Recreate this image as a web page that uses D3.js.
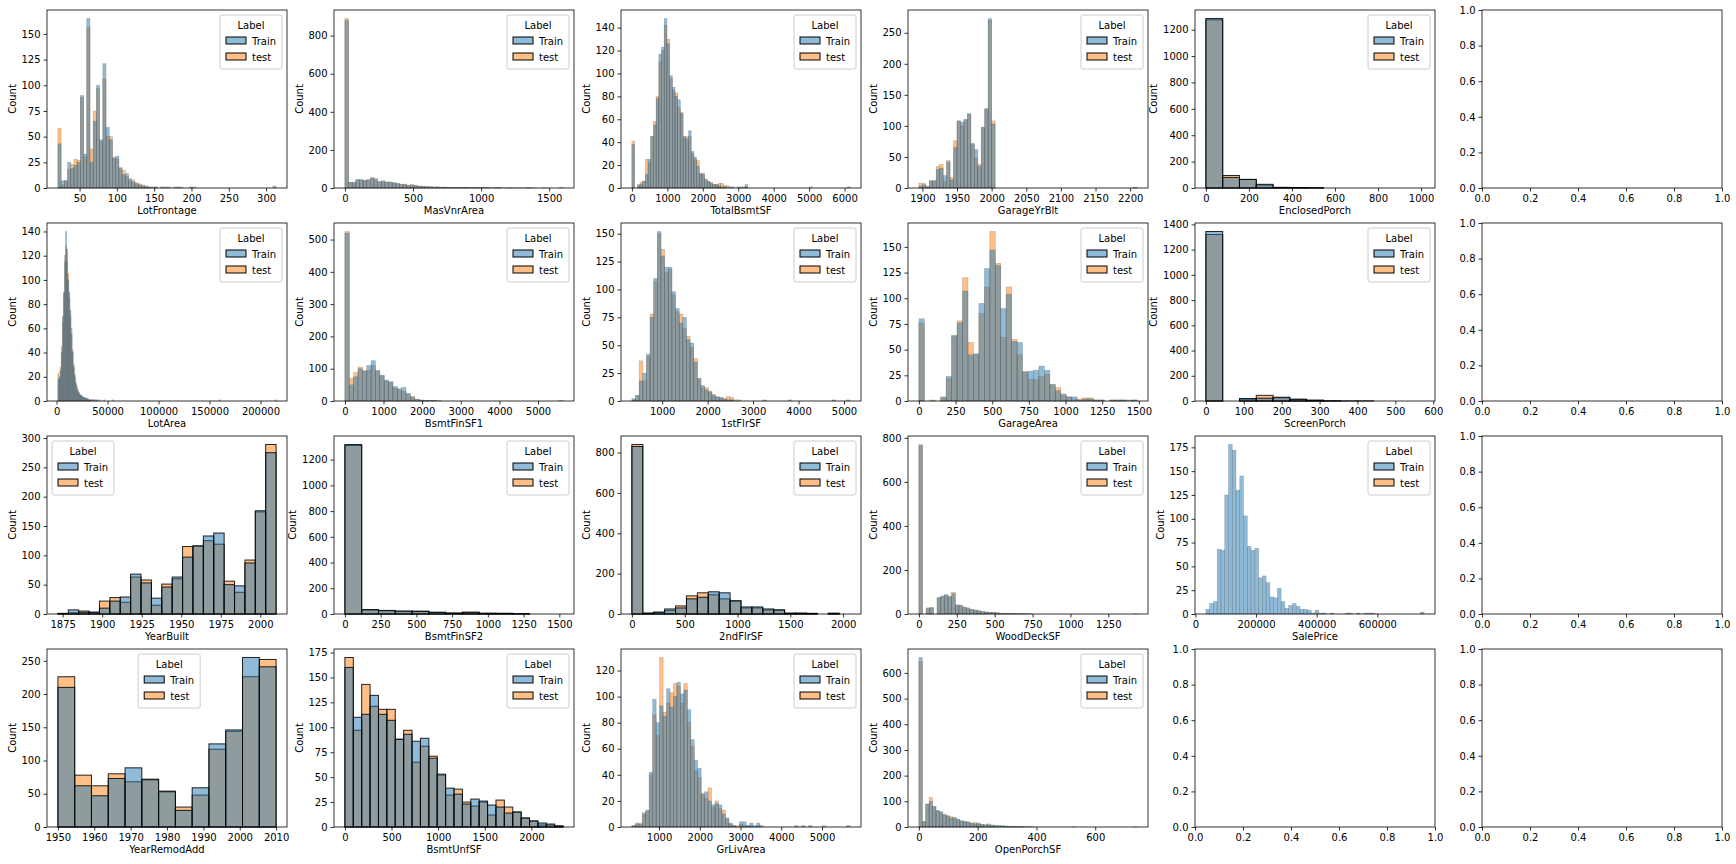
<!DOCTYPE html>
<html>
<head>
<meta charset="utf-8">
<script src="https://cdn.jsdelivr.net/npm/d3@7"></script>
<style>
  body { margin: 0; background: #fff; }
  text { font-family: "DejaVu Sans", sans-serif; font-size: 10px; fill: #000; }
</style>
</head>
<body>
<svg id="chart" width="1736" height="864"></svg>
<script>
// histogram bins: start, width, counts per bin (Train / test)
const lotFrontageTrain = [43,7,7,25,19,22,25,90,33,165,25,65,100,47,121,59,47,29,31,19,13,14,9,6,5,3,2,2,1,1,1,0,1,0,1,0,1,1,0,0,0,1,0,0,0,0,0,0,0,0,0,0,0,0,0,0,0,0,0,0,0,0,0,0,0,0,0,2]
const lotFrontageTest = [58,3,7,18,23,28,27,88,30,156,38,75,97,45,106,50,50,30,28,20,17,11,7,8,4,4,3,1,1,0,1,0,0,1,0,0,0,0,1,0,0,0,1]
const masVnrTrain = [880,30,28,45,45,40,42,55,45,35,35,32,30,28,25,18,17,15,12,14,10,8,7,6,5,6,4,4,3,3,3,2,4,2,3,2,1,2,3,1,0,2,2,0,1,1,1,0,1,0,2,1,0,0,1,0,0,0,0,2]
const masVnrTest = [890,28,30,42,40,38,45,50,50,30,38,30,32,25,22,20,20,14,20,12,9,10,6,7,4,5,3,5,2,4,2,3,2,3,1,2,2,1,1,2,1,1,1,1,0,1,0,1,0,1,1,0,1,0,0,1]
const totalBsmtTrain = [38,0,2,3,6,12,25,45,55,78,117,123,148,126,98,88,80,77,65,45,43,50,32,27,19,13,12,7,6,4,3,3,2,1,1,0,1,1,0,0,1,1,3,0,0,0,0,0,0,0,0,0,0,0,0,0,0,0,0,0,0,0,0,0,0,0,0,0,0,0,0,0,0,0,0,0,0,0,0,0,1]
const totalBsmtTest = [41,0,3,5,6,25,22,45,58,80,110,120,142,130,96,85,83,70,66,44,45,45,30,25,24,12,13,8,5,5,3,3,4,4,2,2,0,0,0,1,0,0,1,0,0,0,0,0,0,0,0,0,0,0,0,0,0,0,0,0,0,0,0,0,0,0,1]
const garageYrTrain = [3,5,2,11,12,30,32,20,42,13,65,108,106,110,120,72,62,35,98,127,273,103,0,0,0,0,0,0,0,0,0,0,0,0,0,0,0,0,0,0,0,0,0,0,0,0,0,0,0,0,0,0,0,0,0,0,0,0,0,0,0,0,1]
const garageYrTest = [8,7,3,12,11,35,38,10,44,17,76,108,100,110,118,70,48,38,97,128,270,108,0,0,0,0,0,0,0,0,0,0,0,0,0,0,0,0,0,0,0,0,0,0,0,0,0,0,0,0,0,0,0,0,0,0,0,0,0,0,0,0,1]
const enclosedTrain = [1285,80,65,28,5,3,1,0,0,0,0,0,0]
const enclosedTest = [1275,95,65,22,4,4,2,0,0,0,0,0,0]

const lotAreaTrain = [18,20,25,40,70,90,115,140,125,100,90,75,55,40,28,20,15,12,8,6,5,4,4,3,3,2,2,2,1,1,1,1,0,1,0,1,0,0,1,0,0,0,1,0,0,0,0,0,0,0,0,0,0,0,0,0,0,0,0,0,0,0,0,0,0,0,0,0,0,0,0,0,0,0,0,0,0,0,0,0,0,0,0,0,0,0,0,0,0,0,0,0,0,0,0,0,0,0,0,0,0,0,0,0,0,0,0,0,0,0,0,0,0,0,0,0,0,0,0,0,0,0,0,0,0,0,0,0,0,0,0,0,0,0,0,0,0,0,0,0,0,0,0,0,0,0,0,0,1,0,0,0,0,0,0,0,0,0,0,0,0,0,0,0,0,0,0,0,0,0,0,0,0,0,0,0,0,0,0,0,0,0,0,0,0,0,0,0,0,0,0,0,0,0,0,0,0,0,0,1]
const lotAreaTest = [23,18,28,45,65,88,120,128,115,105,85,70,60,42,30,22,14,10,9,7,5,5,3,3,2,2,2,1,1,1,0,1,1,0,1,0,1,0,0,0,0,0,0,0,0,0,0,0,0,0,1]
const bsmtFin1Train = [520,50,75,100,92,110,125,95,80,65,60,45,38,42,24,12,6,3,2,1,1,1,0,0,0,0,0,0,0,0,0,0,0,0,0,0,0,0,0,0,0,0,0,0,0,0,0,0,0,1]
const bsmtFin1Test = [525,70,88,105,95,95,110,92,78,62,58,40,35,30,20,14,5,3,1,1,1]
const firstFlrTrain = [2,5,18,25,42,75,110,152,130,120,120,98,83,70,75,55,52,35,20,14,10,8,5,4,3,2,1,1,0,0,0,0,0,0,0,0,1,0,0,0,0,0,0,0,0,0,0,0,0,0,0,0,0,0,0,1]
const firstFlrTest = [1,5,36,18,40,78,107,150,136,115,118,95,80,78,65,58,48,38,20,12,12,9,6,3,3,2,4,3,1,1,0,0,0,0,0,0,0,0,0,0,0,0,0,1,0,0,0,0,0,0,0,0,0,0,0,0,0,0,0,1]
const garageAreaTrain = [80,0,0,0,4,24,64,76,107,45,46,95,129,147,132,90,104,58,57,28,29,30,34,30,16,10,6,4,4,1,2,2,1,1,0,1,1,1,1,1]
const garageAreaTest = [76,0,1,0,3,22,63,78,120,57,45,85,111,165,134,62,111,60,45,29,21,21,24,26,16,13,7,4,2,2,3,3,1,1,0,1,1,1,0,1]
const screenTrain = [1344,0,20,22,30,15,7,1,1,0,0,0,0]
const screenTest = [1320,0,14,45,25,12,5,1,0,1,0,0,0]

const yearBuiltTrain = [1,7,3,3,10,22,29,68,53,27,46,63,97,116,133,138,50,48,87,176,275]
const yearBuiltTest = [1,2,5,3,22,28,20,63,58,15,51,60,115,116,125,119,56,37,92,174,289]
const bsmtFin2Train = [1318,35,28,22,20,14,6,10,6,5,2,0,0]
const bsmtFin2Test = [1310,30,25,22,22,12,8,15,5,5,3,0,0]
const secondFlrTrain = [830,5,10,25,30,75,83,110,105,65,35,35,25,20,4,4,3,0,3,0]
const secondFlrTest = [840,3,7,18,40,90,105,95,75,65,30,30,20,20,4,4,3,0,4,0]
const woodDeckTrain = [765,0,25,28,0,75,82,88,78,92,42,38,30,25,20,18,14,10,9,7,8,5,4,3,2,2,1,1,1,1,1,0,0,0,0,0,0,0,0,0,0,0,0,0,0,0,0,0,0,0,0,0,0,0,0,0,0,0,0,1]
const woodDeckTest = [770,0,28,30,0,72,78,85,80,98,38,40,32,28,20,18,15,12,9,7,6,6,3,3,2,2,3,1,2,1,1]
const salePriceTrain = [5,11,13,68,67,125,178,172,130,145,103,71,67,69,38,40,33,18,17,27,13,6,9,11,8,5,5,4,1,4,1,1,0,1,0,0,0,1,1,0,1,0,1,1,1,0,0,0,0,0,0,0,0,0,0,0,0,2]
const salePriceTest = []

const remodTrain = [210,62,47,73,89,71,53,25,59,125,146,255,241]
const remodTest = [226,78,62,80,68,72,54,30,48,117,144,226,252]
const bsmtUnfTrain = [160,110,113,132,113,107,88,93,86,89,69,53,39,33,23,28,26,22,20,14,15,9,6,4,3,1]
const bsmtUnfTest = [170,97,143,121,118,118,88,97,65,81,71,52,32,38,25,21,25,12,27,20,15,9,6,2,2,1]
const grLivTrain = [1,3,2,10,13,42,98,80,93,85,106,92,100,111,102,105,90,67,51,45,25,27,20,17,18,17,10,7,3,1,0,4,4,1,3,1,3,1,0,0,0,0,0,0,0,0,0,1,0,1,0,1,0,0,0,0,0,0,0,0,0,0,1]
const grLivTest = [1,2,3,11,12,40,86,70,130,88,95,103,110,108,95,110,80,62,43,38,26,22,30,15,20,14,13,6,2,1,1,2,1,1,1,0,1,0,0,0,0,0,0,0,0,0,0,0,0,0,0,0,0,0,0,1]
const openPorchTrain = [660,22,90,100,80,65,60,50,42,35,38,30,25,22,20,15,12,15,10,9,8,8,6,5,5,4,3,2,2,3,1,1,0,1,0,0,0,0,0,0,0,0,0,0,0,1,0,0,0,0,0,0,0,0,0,0,0,0,0,0,0,0,0,1]
const openPorchTest = [645,20,88,115,80,62,55,45,45,40,33,30,22,20,18,15,18,12,10,8,12,6,5,4,4,3,2,2,1,1,2,0,3]

const panels = [
  { name: 'LotFrontage', start: 21, width: 4.3, train: lotFrontageTrain, test: lotFrontageTest, xTicks: [50,100,150,200,250,300], yTicks: [0,25,50,75,100,125,150] },
  { name: 'MasVnrArea', start: 0, width: 26.7, train: masVnrTrain, test: masVnrTest, xTicks: [0,500,1000,1500], yTicks: [0,200,400,600,800] },
  { name: 'TotalBsmtSF', start: 0, width: 76, train: totalBsmtTrain, test: totalBsmtTest, xTicks: [0,1000,2000,3000,4000,5000,6000], yTicks: [0,20,40,60,80,100,120,140] },
  { name: 'GarageYrBlt', start: 1895, width: 5, train: garageYrTrain, test: garageYrTest, xTicks: [1900,1950,2000,2050,2100,2150,2200], yTicks: [0,50,100,150,200,250] },
  { name: 'EnclosedPorch', start: 0, width: 78, train: enclosedTrain, test: enclosedTest, xTicks: [0,200,400,600,800,1000], yTicks: [0,200,400,600,800,1000,1200] },
  null,
  { name: 'LotArea', start: 1300, width: 1070, train: lotAreaTrain, test: lotAreaTest, xTicks: [0,50000,100000,150000,200000], yTicks: [0,20,40,60,80,100,120,140] },
  { name: 'BsmtFinSF1', start: 0, width: 113, train: bsmtFin1Train, test: bsmtFin1Test, xTicks: [0,1000,2000,3000,4000,5000], yTicks: [0,100,200,300,400,500] },
  { name: '1stFlrSF', start: 334, width: 80, train: firstFlrTrain, test: firstFlrTest, xTicks: [1000,2000,3000,4000,5000], yTicks: [0,25,50,75,100,125,150] },
  { name: 'GarageArea', start: 0, width: 37.2, train: garageAreaTrain, test: garageAreaTest, xTicks: [0,250,500,750,1000,1250,1500], yTicks: [0,25,50,75,100,125,150] },
  { name: 'ScreenPorch', start: 0, width: 44.3, train: screenTrain, test: screenTest, xTicks: [0,100,200,300,400,500,600], yTicks: [0,200,400,600,800,1000,1200,1400] },
  null,
  { name: 'YearBuilt', start: 1872, width: 6.57, train: yearBuiltTrain, test: yearBuiltTest, xTicks: [1875,1900,1925,1950,1975,2000], yTicks: [0,50,100,150,200,250,300], legend: 'left' },
  { name: 'BsmtFinSF2', start: 0, width: 117.4, train: bsmtFin2Train, test: bsmtFin2Test, xTicks: [0,250,500,750,1000,1250,1500], yTicks: [0,200,400,600,800,1000,1200] },
  { name: '2ndFlrSF', start: 0, width: 103.3, train: secondFlrTrain, test: secondFlrTest, xTicks: [0,500,1000,1500,2000], yTicks: [0,200,400,600,800] },
  { name: 'WoodDeckSF', start: 0, width: 24, train: woodDeckTrain, test: woodDeckTest, xTicks: [0,250,500,750,1000,1250], yTicks: [0,200,400,600,800] },
  { name: 'SalePrice', start: 34900, width: 12400, train: salePriceTrain, test: salePriceTest, xTicks: [0,200000,400000,600000], yTicks: [0,25,50,75,100,125,150,175] },
  null,
  { name: 'YearRemodAdd', start: 1950, width: 4.615, train: remodTrain, test: remodTest, xTicks: [1950,1960,1970,1980,1990,2000,2010], yTicks: [0,50,100,150,200,250], legend: 'center' },
  { name: 'BsmtUnfSF', start: 0, width: 90, train: bsmtUnfTrain, test: bsmtUnfTest, xTicks: [0,500,1000,1500,2000], yTicks: [0,25,50,75,100,125,150,175] },
  { name: 'GrLivArea', start: 334, width: 85, train: grLivTrain, test: grLivTest, xTicks: [1000,2000,3000,4000,5000], yTicks: [0,20,40,60,80,100,120] },
  { name: 'OpenPorchSF', start: 0, width: 11.6, train: openPorchTrain, test: openPorchTest, xTicks: [0,200,400,600], yTicks: [0,100,200,300,400,500,600] },
  null,
  null
]
const emptyTicks = ['0.0','0.2','0.4','0.6','0.8','1.0']

const svg = d3.select('#chart')
const colW = 240, colStep = 287, rowH = 178, rowStep = 213
const trainColor = '#1f77b4', testColor = '#ff7f0e'

panels.forEach((p, i) => {
  const col = i % 6, row = Math.floor(i / 6)
  const left = 47 + col * colStep, top = 10 + row * rowStep
  const g = svg.append('g').attr('transform', `translate(${left},${top})`)

  if (!p) {
    const x = d3.scaleLinear().domain([0, 1]).range([0, colW])
    const y = d3.scaleLinear().domain([0, 1]).range([rowH, 0])
    g.append('g').attr('transform', `translate(0,${rowH})`)
      .call(d3.axisBottom(x).tickValues(emptyTicks.map(Number)).tickFormat(d3.format('.1f')).tickSizeOuter(0).tickSize(3.5))
    g.append('g').call(d3.axisLeft(y).tickValues(emptyTicks.map(Number)).tickFormat(d3.format('.1f')).tickSizeOuter(0).tickSize(3.5))
    frame(g)
    return
  }

  const n = Math.max(p.train.length, p.test.length)
  const lo = p.start, hi = p.start + n * p.width
  const pad = (hi - lo) * 0.05
  const maxY = d3.max(p.train.concat(p.test))
  const x = d3.scaleLinear().domain([lo - pad, hi + pad]).range([0, colW])
  const y = d3.scaleLinear().domain([0, maxY * 1.05]).range([rowH, 0])
  const pxW = x(p.start + p.width) - x(p.start)
  const thin = pxW < 8

  const series = [{ vals: p.test, color: testColor }, { vals: p.train, color: trainColor }]
  series.forEach(s => {
    g.append('g').selectAll('rect')
      .data(s.vals.map((v, k) => ({ k, v })).filter(d => d.v > 0))
      .enter().append('rect')
      .attr('x', d => x(p.start + d.k * p.width))
      .attr('width', pxW)
      .attr('y', d => y(d.v))
      .attr('height', d => rowH - y(d.v))
      .attr('fill', s.color)
      .attr('fill-opacity', 0.5)
      .attr('stroke', thin ? '#555' : '#000')
      .attr('stroke-opacity', thin ? 0.35 : 0.85)
      .attr('stroke-width', thin ? 0.6 : 1)
  })

  const fmt = d3.format('d')
  g.append('g').attr('transform', `translate(0,${rowH})`)
    .call(d3.axisBottom(x).tickValues(p.xTicks).tickFormat(fmt).tickSizeOuter(0).tickSize(3.5))
  g.append('g').call(d3.axisLeft(y).tickValues(p.yTicks).tickFormat(fmt).tickSizeOuter(0).tickSize(3.5))
  frame(g)

  g.append('text').attr('x', colW / 2).attr('y', rowH + 26).attr('text-anchor', 'middle').text(p.name)
  const labW = d3.max(p.yTicks, t => String(t).length) * 6.4
  g.append('text').attr('transform', `translate(${-labW - 12},${rowH / 2}) rotate(-90)`)
    .attr('text-anchor', 'middle').text('Count')

  // legend
  const lw = 62, lh = 54
  const lx = p.legend === 'left' ? 5 : p.legend === 'center' ? colW * 0.38 : colW - lw - 5
  const lg = g.append('g').attr('transform', `translate(${lx},5)`)
  lg.append('rect').attr('width', lw).attr('height', lh).attr('rx', 2)
    .attr('fill', '#fff').attr('fill-opacity', 0.8).attr('stroke', '#ccc')
  lg.append('text').attr('x', lw / 2).attr('y', 14).attr('text-anchor', 'middle').text('Label')
  ;[['Train', trainColor], ['test', testColor]].forEach(([lab, c], k) => {
    lg.append('rect').attr('x', 6).attr('y', 22 + k * 16).attr('width', 20).attr('height', 7)
      .attr('fill', c).attr('fill-opacity', 0.5).attr('stroke', '#000')
    lg.append('text').attr('x', 32).attr('y', 30 + k * 16).text(lab)
  })
})

function frame(g) {
  g.selectAll('.domain').remove()
  g.selectAll('.tick line').attr('stroke', '#000').attr('stroke-width', 0.8)
  g.selectAll('.tick text').style('font-family', '"DejaVu Sans", sans-serif').style('font-size', '10px').attr('fill', '#000')
  g.append('rect').attr('width', colW).attr('height', rowH)
    .attr('fill', 'none').attr('stroke', '#000').attr('stroke-width', 0.8)
}
</script>
</body>
</html>
